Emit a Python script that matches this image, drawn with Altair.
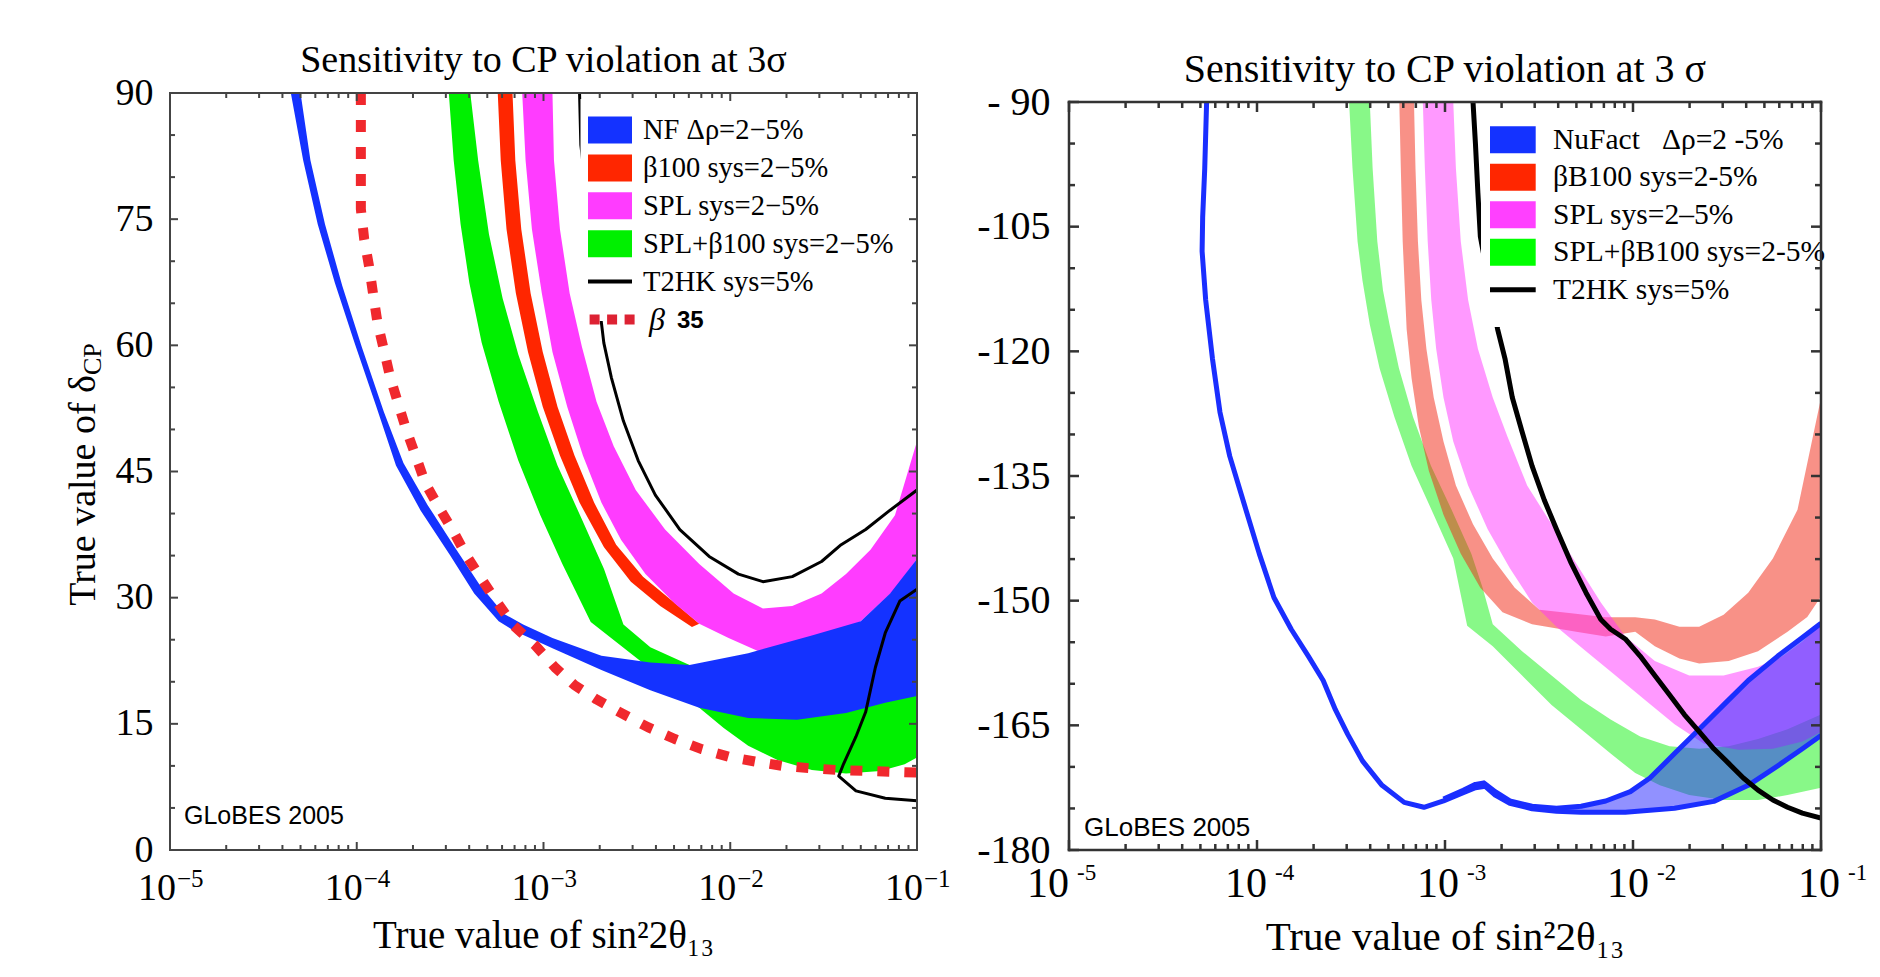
import altair as alt
import numpy as np
import pandas as pd

SERIF = "Liberation Serif, Times New Roman, serif"
SANS = "Liberation Sans, Arial, sans-serif"

# ======================= LEFT PANEL  (delta_CP 0..90 deg) =======================
# x values are stored as log10(sin^2 2theta13)
nf_l_lx = [-4.353, -4.287, -4.209, -4.117, -4.012, -3.895, -3.790, -3.659, -3.502, -3.371, -3.240, -3.161,
           -2.952, -2.690, -2.428, -2.166, -1.904, -1.642, -1.380, -1.170, -1.0,
           -1.0, -1.144, -1.301, -1.563, -1.904, -2.218, -2.428, -2.690, -2.952, -3.109,
           -3.213, -3.344, -3.475, -3.620, -3.750, -3.855, -3.973, -4.078, -4.170, -4.248, -4.301]
nf_l_d = [90, 82.0, 74.4, 67.4, 60.3, 52.7, 45.7, 40.4, 35.1, 30.5, 27.2, 26.1,
          24.0, 21.4, 19.0, 16.9, 15.7, 15.5, 16.3, 17.5, 18.3,
          34.6, 30.5, 27.2, 25.5, 23.4, 22.0, 22.3, 23.1, 25.2, 26.8,
          28.1, 31.6, 36.0, 41.0, 46.0, 52.1, 59.8, 67.1, 74.4, 82.0, 90]

b35_l_lx = [-3.978, -3.978, -3.960, -3.934, -3.913, -3.889, -3.855, -3.821, -3.777, -3.737, -3.685, -3.633,
            -3.559, -3.481, -3.410, -3.331, -3.253, -3.161, -3.043, -2.938, -2.834, -2.716, -2.585, -2.441,
            -2.297, -2.153, -2.009, -1.864, -1.720, -1.563, -1.419, -1.275, -1.131, -0.985]
b35_l_d = [90, 76.2, 72.6, 69.4, 66.2, 62.7, 59.5, 56.2, 53.0, 50.1, 46.9, 43.6,
           40.7, 37.8, 34.9, 32.2, 29.6, 26.7, 24.3, 21.7, 19.6, 17.9, 16.3, 14.6,
           13.2, 12.0, 11.1, 10.5, 10.0, 9.7, 9.5, 9.4, 9.3, 9.2]

splb_l_lx = [-3.507, -3.481, -3.444, -3.397, -3.331, -3.240, -3.135, -3.017, -2.899, -2.747, -2.454, -2.166,
             -2.035, -1.904, -1.747, -1.563, -1.380, -1.196, -1.066, -1.0,
             -1.0, -1.380, -1.904, -2.218, -2.428, -2.572, -2.676, -2.794, -2.925, -3.030, -3.135, -3.219,
             -3.292, -3.350, -3.392]
splb_l_d = [90, 82.0, 74.4, 67.4, 60.3, 53.3, 46.3, 39.8, 34.0, 27.1, 22.0, 16.9,
            14.5, 12.4, 10.7, 9.5, 9.1, 9.4, 10.2, 11.0,
            23.4, 22.0, 21.0, 22.0, 24.1, 26.8, 33.4, 39.3, 45.7, 52.1, 58.9, 65.6,
            73.2, 82.0, 90]

b100_l_lx = [-3.245, -3.229, -3.198, -3.148, -3.083, -3.004, -2.912, -2.807, -2.676, -2.532, -2.375, -2.205,
             -2.166, -2.310, -2.467, -2.611, -2.729, -2.834, -2.925, -3.004, -3.069, -3.119, -3.151, -3.166]
b100_l_d = [90, 82.0, 73.8, 66.2, 59.2, 52.7, 46.9, 41.3, 36.0, 31.9, 29.0, 26.5,
            26.9, 29.6, 32.5, 36.3, 41.3, 46.9, 52.7, 59.2, 66.2, 73.8, 82.0, 90]

spl_l_lx = [-3.114, -3.096, -3.062, -3.009, -2.952, -2.873, -2.789, -2.690, -2.585, -2.454, -2.297, -2.166,
            -2.009, -1.825, -1.642, -1.432, -1.301, -1.118, -1.0,
            -1.0, -1.118, -1.249, -1.380, -1.511, -1.668, -1.825, -1.982, -2.166, -2.349, -2.506, -2.624,
            -2.716, -2.794, -2.860, -2.912, -2.944, -2.952]
spl_l_d = [90, 82.0, 73.8, 66.2, 59.2, 52.7, 46.9, 41.3, 36.9, 32.8, 29.3, 26.9,
           25.2, 23.4, 24.0, 25.8, 27.2, 31.0, 34.6,
           48.6, 39.8, 35.7, 32.8, 30.5, 29.0, 28.7, 30.5, 34.0, 38.1, 42.8, 48.0,
           53.3, 59.8, 66.2, 73.8, 82.0, 90]

t2hk_l1_lx = [-2.807, -2.800, -2.690, -2.677, -2.637, -2.572, -2.493, -2.401, -2.270, -2.113, -1.956,
              -1.825, -1.668, -1.511, -1.406, -1.275, -1.144, -1.0]
t2hk_l1_d = [90, 83.8, 62.7, 60.3, 56.2, 51.0, 46.3, 42.2, 38.1, 34.9, 32.8,
             31.9, 32.5, 34.3, 36.3, 38.1, 40.4, 42.8]
t2hk_l2_lx = [-1.0, -1.170, -1.327, -1.419, -1.393, -1.327, -1.275, -1.223, -1.170, -1.092, -1.0]
t2hk_l2_d = [5.86, 6.15, 7.03, 8.79, 10.25, 13.47, 16.4, 21.7, 25.8, 29.6, 31.0]

# ======================= RIGHT PANEL  (delta_CP -180..-90 deg) =======================
nf_r_out_lx = [-4.268, -4.278, -4.289, -4.292, -4.273, -4.237, -4.197, -4.145, -4.067, -3.988, -3.910,
               -3.818, -3.727, -3.648, -3.583, -3.518, -3.439, -3.335, -3.217, -3.112, -3.008, -2.903,
               -2.838, -2.786, -2.733, -2.655, -2.537, -2.407, -2.276, -2.041, -1.779, -1.570, -1.387,
               -1.230, -1.099, -1.0]
nf_r_out_d = [-90, -97.98, -103.85, -107.96, -113.83, -120.87, -127.32, -132.61, -138.47, -144.34, -149.62,
              -153.44, -156.67, -159.60, -163.12, -166.06, -169.28, -172.22, -174.27, -174.86, -174.10, -173.10,
              -172.51, -172.33, -173.39, -174.39, -175.03, -175.33, -175.45, -175.45, -174.98, -174.15, -172.22,
              -169.87, -167.82, -166.23]
nf_r_up_lx = [-3.008, -2.903, -2.838, -2.793, -2.733, -2.655, -2.537, -2.407, -2.276, -2.145, -2.014,
              -1.910, -1.779, -1.648, -1.518, -1.387, -1.230, -1.099, -1.0]
nf_r_up_d = [-173.86, -172.80, -172.10, -171.92, -172.98, -174.10, -174.74, -174.98, -174.74, -174.10, -172.98,
             -171.34, -168.40, -165.47, -162.54, -159.60, -156.67, -154.44, -152.73]

splb_r_lx = [-3.510, -3.492, -3.465, -3.439, -3.400, -3.348, -3.269, -3.178, -3.060, -2.956, -2.882, -2.746,
             -2.590, -2.433, -2.276, -2.119, -1.988, -1.857, -1.701, -1.518, -1.335, -1.178, -1.0,
             -1.0, -1.178, -1.335, -1.491, -1.648, -1.805, -1.962, -2.119, -2.276, -2.433, -2.590, -2.746,
             -2.80, -2.86, -2.965, -3.075, -3.17, -3.245, -3.295, -3.33, -3.36, -3.385, -3.400]
splb_r_d = [-90, -97.98, -106.78, -111.48, -116.76, -122.04, -127.91, -133.78, -139.65, -144.93, -153.03, -155.49,
            -159.01, -162.54, -165.47, -168.40, -170.75, -172.22, -173.39, -173.98, -173.98, -173.39, -172.51,
            -163.71, -165.47, -166.64, -167.52, -167.82, -167.52, -166.35, -164.30, -161.95, -159.01, -156.08,
            -152.85, -148.45, -144.34, -139.06, -133.78, -127.91, -122.04, -116.76, -112.65, -106.78, -97.98, -90]

b100_r_lx = [-3.243, -3.235, -3.225, -3.204, -3.178, -3.139, -3.086, -3.008, -2.916, -2.812, -2.694, -2.537,
             -2.302, -2.145, -1.988, -1.884, -1.753, -1.648, -1.491, -1.335, -1.178, -1.073, -1.0,
             -1.0, -1.125, -1.256, -1.387, -1.518, -1.648, -1.753, -1.884, -1.988, -2.145, -2.328, -2.498,
             -2.629, -2.746, -2.851, -2.942, -3.008, -3.060, -3.099, -3.126, -3.144, -3.157, -3.165]
b100_r_d = [-90, -97.98, -106.78, -117.35, -123.22, -129.08, -134.37, -139.65, -144.34, -148.45, -151.38, -152.85,
            -153.73, -154.32, -153.73, -155.49, -156.96, -157.55, -157.25, -156.08, -153.73, -151.97, -149.5,
            -125.6, -139.06, -144.93, -149.04, -151.68, -153.15, -153.15, -152.27, -152.0, -152.0, -151.5, -151.09,
            -148.45, -144.93, -140.82, -136.13, -130.85, -125.56, -119.69, -113.83, -106.78, -97.98, -90]

spl_r_lx = [-3.118, -3.107, -3.092, -3.073, -3.047, -3.008, -2.956, -2.877, -2.773, -2.655, -2.537, -2.407,
            -2.250, -2.093, -1.936, -1.779, -1.622, -1.439, -1.256, -1.099, -1.0,
            -1.0, -1.099, -1.204, -1.335, -1.518, -1.701, -1.884, -2.041, -2.171, -2.302, -2.433, -2.563,
            -2.668, -2.746, -2.825, -2.877, -2.916, -2.942, -2.956]
spl_r_d = [-90, -97.98, -106.78, -113.83, -119.69, -125.56, -130.85, -136.13, -141.41, -146.10, -150.21, -153.15,
           -156.08, -159.01, -161.95, -164.88, -167.23, -167.93, -167.82, -166.94, -165.8,
           -152.8, -154.91, -156.67, -157.96, -159.01, -159.01, -157.25, -154.32, -150.21, -145.52, -140.82, -136.13,
           -130.26, -125.56, -119.69, -113.83, -106.78, -97.98, -90]

t2hk_r_lx = [-2.851, -2.838, -2.825, -2.812, -2.720, -2.681, -2.642, -2.590, -2.537, -2.472, -2.407, -2.328,
             -2.250, -2.171, -2.119, -2.041, -1.962, -1.884, -1.805, -1.727, -1.648, -1.570, -1.491, -1.413,
             -1.335, -1.256, -1.178, -1.099, -1.0]
t2hk_r_d = [-90, -95.05, -100.92, -106.20, -117.35, -120.87, -125.56, -129.67, -133.78, -137.89, -141.41, -145.52,
            -149.04, -152.27, -153.44, -154.61, -156.67, -159.01, -161.36, -163.71, -165.76, -167.82, -169.58, -171.34,
            -172.80, -173.98, -174.86, -175.56, -176.15]

# ======================= ticks, labels, legend text =======================
x_decades = [-5, -4, -3, -2, -1]
left_y_major = [0, 15, 30, 45, 60, 75, 90]
right_y_major = [-180, -165, -150, -135, -120, -105, -90]
left_title = "Sensitivity to CP violation at 3\u03c3"
right_title = "Sensitivity to CP violation at 3 \u03c3"
x_title = "True value of sin\u00b22\u03b8\u2081\u2083"
left_legend = ["NF \u0394\u03c1=2\u22125%", "\u03b2100 sys=2\u22125%", "SPL sys=2\u22125%",
               "SPL+\u03b2100 sys=2\u22125%", "T2HK sys=5%"]
left_legend_colors = ["#1432ff", "#ff2600", "#ff3cff", "#00f000"]
right_legend = ["NuFact\u00a0\u00a0 \u0394\u03c1=2 -5%", "\u03b2B100 sys=2-5%", "SPL sys=2\u20135%",
                "SPL+\u03b2B100 sys=2-5%", "T2HK sys=5%"]
right_legend_colors = ["#1432ff", "#ff2600", "#ff40ff", "#00ff00"]

# ======================= chart building =======================
W_L, W_R, H = 747, 752, 757
XS = alt.Scale(type="log", domain=[1e-5, 1e-1], nice=False)
YS_L = alt.Scale(domain=[0, 90], nice=False, zero=False)
YS_R = alt.Scale(domain=[-180, -90], range=[H, 9], nice=False, zero=False)

YAX_L = alt.Axis(values=left_y_major, title=None, domain=False, ticks=False, tickSize=0, grid=False,
                 labelFont=SERIF, labelFontSize=38, labelColor="black", labelPadding=17,
                 labelOverlap=False, labelFlush=False)
YAX_R = alt.Axis(values=right_y_major, title=None, domain=False, ticks=False, tickSize=0, grid=False,
                 labelFont=SERIF, labelFontSize=40, labelColor="black", labelPadding=19,
                 labelOverlap=False, labelFlush=False,
                 labelExpr="datum.value == -90 ? '- 90' : '-' + (-datum.value)")


def xy_df(lx, d):
    return pd.DataFrame({"x": np.power(10.0, np.array(lx, dtype=float)),
                         "y": np.array(d, dtype=float), "i": np.arange(len(lx))})


def enc_xy(ys, yax):
    return dict(x=alt.X("x:Q", scale=XS, axis=None), y=alt.Y("y:Q", scale=ys, axis=yax),
                order=alt.Order("i:Q"))


def band(lx, d, color, ys, yax, op=1.0):
    return alt.Chart(xy_df(lx, d)).mark_line(
        fill=color, fillOpacity=op, stroke=color, strokeWidth=0, clip=True
    ).encode(**enc_xy(ys, yax))


def curve(lx, d, color, width, ys, yax, dash=None, clip=True):
    kw = dict(stroke=color, strokeWidth=width, clip=clip, strokeJoin="round", strokeCap="butt")
    if dash is not None:
        kw["strokeDash"] = dash
    return alt.Chart(xy_df(lx, d)).mark_line(**kw).encode(**enc_xy(ys, yax))


def frame_and_ticks(ylo, yhi, ymaj, ymin, lmaj, lmin, ys, yax, color, width):
    layers = []
    fdf = pd.DataFrame({"x": [1e-5, 0.1, 1e-5, 1e-5], "x2": [1e-5, 0.1, 0.1, 0.1],
                        "y": [ylo, ylo, ylo, yhi], "y2": [yhi, yhi, ylo, yhi]})
    layers.append(alt.Chart(fdf).mark_rule(color=color, strokeWidth=width, strokeCap="square").encode(
        x=alt.X("x:Q", scale=XS, axis=None), x2="x2:Q", y=alt.Y("y:Q", scale=ys, axis=yax), y2="y2:Q"))
    xmaj = [10.0 ** e for e in x_decades]
    xmin = [k * 10.0 ** e for e in x_decades[:-1] for k in range(2, 10)]
    for vals, L in ((ymaj, lmaj), (ymin, lmin)):
        b = alt.Chart(pd.DataFrame({"v": vals, "a": 1e-5, "b": 0.1}))
        layers.append(b.mark_rule(color=color, strokeWidth=width, x2Offset=L).encode(
            x=alt.X("a:Q", scale=XS, axis=None), x2="a:Q", y=alt.Y("v:Q", scale=ys, axis=yax)))
        layers.append(b.mark_rule(color=color, strokeWidth=width, x2Offset=-L).encode(
            x=alt.X("b:Q", scale=XS, axis=None), x2="b:Q", y=alt.Y("v:Q", scale=ys, axis=yax)))
    for vals, L in ((xmaj, lmaj), (xmin, lmin)):
        b = alt.Chart(pd.DataFrame({"v": vals, "a": ylo, "b": yhi}))
        layers.append(b.mark_rule(color=color, strokeWidth=width, y2Offset=-L).encode(
            x=alt.X("v:Q", scale=XS, axis=None), y=alt.Y("a:Q", scale=ys, axis=yax), y2="a:Q"))
        layers.append(b.mark_rule(color=color, strokeWidth=width, y2Offset=L).encode(
            x=alt.X("v:Q", scale=XS, axis=None), y=alt.Y("b:Q", scale=ys, axis=yax), y2="b:Q"))
    return layers


def xlabels(ylo, ys, yax, bsize, esize, bdxs, gap, bdy, edy, minus):
    layers = []
    for e, bdx in zip(x_decades, bdxs):
        df = pd.DataFrame({"v": [10.0 ** e], "y": [ylo], "b": ["10"], "e": [minus + str(-e)]})
        enc = dict(x=alt.X("v:Q", scale=XS, axis=None), y=alt.Y("y:Q", scale=ys, axis=yax))
        layers.append(alt.Chart(df).mark_text(font=SERIF, fontSize=bsize, align="right",
                                              baseline="alphabetic", dx=bdx, dy=bdy,
                                              color="black").encode(text="b:N", **enc))
        layers.append(alt.Chart(df).mark_text(font=SERIF, fontSize=esize, align="left",
                                              baseline="alphabetic", dx=bdx + gap, dy=edy,
                                              color="black").encode(text="e:N", **enc))
    return layers


def note(text, xv, yv, ys, yax, font, size, dx, dy, align="left"):
    df = pd.DataFrame({"x": [xv], "y": [yv], "t": [text]})
    return alt.Chart(df).mark_text(font=font, fontSize=size, align=align, baseline="alphabetic",
                                   dx=dx, dy=dy, color="black").encode(
        x=alt.X("x:Q", scale=XS, axis=None), y=alt.Y("y:Q", scale=ys, axis=yax), text="t:N")


def legend(labels, colors, bg, x0, x1, xt, yc0, dy, size, line_w):
    one_ = pd.DataFrame({"a": [0]})
    layers = [alt.Chart(one_).mark_rect(color="white").encode(
        x=alt.value(bg[0]), x2=alt.value(bg[1]), y=alt.value(bg[2]), y2=alt.value(bg[3]))]
    n = len(colors)
    sw = pd.DataFrame({"x0": x0, "x1": x1, "c": colors,
                       "yt": [yc0 + dy * i - 13.5 for i in range(n)],
                       "yb": [yc0 + dy * i + 13.5 for i in range(n)]})
    layers.append(alt.Chart(sw).mark_rect().encode(
        x=alt.X("x0:Q", scale=None), x2="x1:Q", y=alt.Y("yt:Q", scale=None), y2="yb:Q",
        color=alt.Color("c:N", scale=None)))
    ln = pd.DataFrame({"x0": [x0], "x1": [x1], "y": [yc0 + dy * n]})
    layers.append(alt.Chart(ln).mark_rule(color="black", strokeWidth=line_w).encode(
        x=alt.X("x0:Q", scale=None), x2="x1:Q", y=alt.Y("y:Q", scale=None)))
    tx = pd.DataFrame({"t": labels, "x": xt, "y": [yc0 + dy * i for i in range(len(labels))]})
    layers.append(alt.Chart(tx).mark_text(font=SERIF, fontSize=size, align="left", baseline="middle",
                                          color="black").encode(
        x=alt.X("x:Q", scale=None), y=alt.Y("y:Q", scale=None), text="t:N"))
    return layers


def title_text(text, size, xpix, ypix):
    return alt.Chart(pd.DataFrame({"t": [text]})).mark_text(
        font=SERIF, fontSize=size, align="center", baseline="alphabetic", color="black"
    ).encode(x=alt.value(xpix), y=alt.value(ypix), text="t:N")


one = pd.DataFrame({"a": [0]})

# ---------- left panel ----------
L = []
L.append(band(splb_l_lx, splb_l_d, "#00f000", YS_L, YAX_L))
L.append(band(b100_l_lx, b100_l_d, "#ff2600", YS_L, YAX_L))
L.append(band(spl_l_lx, spl_l_d, "#ff3cff", YS_L, YAX_L))
L.append(band(nf_l_lx, nf_l_d, "#1432ff", YS_L, YAX_L))
L.append(curve(t2hk_l1_lx, t2hk_l1_d, "black", 3, YS_L, YAX_L))
L.append(curve(t2hk_l2_lx, t2hk_l2_d, "black", 3, YS_L, YAX_L))
L.append(curve(b35_l_lx, b35_l_d, "#f0282d", 10, YS_L, YAX_L, dash=[12, 15], clip=False))
L += legend(left_legend, left_legend_colors, (410.5, 736, 6, 228), 418, 462, 473, 37, 37.9, 28.5, 4)
L.append(alt.Chart(pd.DataFrame({"x0": [419.6], "x1": [464.6], "y": [37 + 37.9 * 5]})).mark_rule(
    color="#dd2233", strokeWidth=10, strokeDash=[10, 7.5]).encode(
    x=alt.X("x0:Q", scale=None), x2="x1:Q", y=alt.Y("y:Q", scale=None)))
L.append(alt.Chart(one).mark_text(text="\u03b2", font=SERIF, fontStyle="italic", fontSize=32,
                                  align="left", baseline="middle").encode(
    x=alt.value(479), y=alt.value(37 + 37.9 * 5)))
L.append(alt.Chart(one).mark_text(text="35", font=SANS, fontWeight="bold", fontSize=24,
                                  align="left", baseline="middle").encode(
    x=alt.value(507), y=alt.value(37 + 37.9 * 5 + 1)))
L += frame_and_ticks(0, 90, left_y_major, [v for v in range(5, 90, 5) if v % 15], 8, 5,
                     YS_L, YAX_L, "#444444", 2)
L += xlabels(0, YS_L, YAX_L, 38, 25, [6, 6, 6, 6, 6], 1, 50, 37, "\u2212")
L.append(note("GLoBES 2005", 1e-5, 0, YS_L, YAX_L, SANS, 25, 14, -26))
L.append(note(x_title, 1e-3, 0, YS_L, YAX_L, SERIF, 39, 0, 98, align="center"))
L.append(alt.Chart(one).mark_text(text="True value of \u03b4", font=SERIF, fontSize=38, angle=270,
                                  align="right", baseline="alphabetic").encode(
    x=alt.value(-75), y=alt.value(282)))
L.append(alt.Chart(one).mark_text(text="CP", font=SERIF, fontSize=26, angle=270,
                                  align="left", baseline="alphabetic").encode(
    x=alt.value(-69), y=alt.value(282)))
L.append(title_text(left_title, 38, W_L / 2, -21))
# invisible anchor fixing the top-left corner of the drawing
L.append(alt.Chart(one).mark_rule(strokeOpacity=0, strokeWidth=1).encode(
    x=alt.value(-162), x2=alt.value(-160), y=alt.value(-84.5)))

left = alt.layer(*L).properties(width=W_L, height=H)

# ---------- right panel ----------
R = []
R.append(band(splb_r_lx, splb_r_d, "#11f111", YS_R, YAX_R, 0.5))
R.append(band(b100_r_lx, b100_r_d, "#f1230f", YS_R, YAX_R, 0.5))
R.append(band(spl_r_lx, spl_r_d, "#ff33ff", YS_R, YAX_R, 0.5))
nf_fill_lx = nf_r_up_lx + nf_r_out_lx[20:][::-1]
nf_fill_d = nf_r_up_d + nf_r_out_d[20:][::-1]
R.append(band(nf_fill_lx, nf_fill_d, "#2323ff", YS_R, YAX_R, 0.5))
R.append(curve(nf_r_out_lx, nf_r_out_d, "#1a2eff", 5, YS_R, YAX_R))
R.append(curve(nf_r_up_lx, nf_r_up_d, "#1a2eff", 5, YS_R, YAX_R))
R.append(curve(t2hk_r_lx, t2hk_r_d, "black", 5, YS_R, YAX_R))
R += legend(right_legend, right_legend_colors, (412, 745, 15, 234), 421, 466.7, 484, 46.7, 37.5, 29.5, 5)
R += frame_and_ticks(-180, -90, right_y_major, [v for v in range(-175, -90, 5) if v % 15], 10, 6,
                     YS_R, YAX_R, "#333333", 2.5)
R += xlabels(-180, YS_R, YAX_R, 42, 23, [0, 10, 14, 16, 19], 8, 47, 30, "-")
R.append(note("GLoBES 2005", 1e-5, -180, YS_R, YAX_R, SANS, 26, 15, -14))
R.append(note(x_title, 1e-3, -180, YS_R, YAX_R, SERIF, 41, 0, 100, align="center"))
R.append(title_text(right_title, 40, W_R / 2, -11))

right = alt.layer(*R).properties(width=W_R, height=H)

chart = alt.hconcat(left, right, spacing=152, bounds="flush").properties(
    padding=0, background="white"
).configure_view(strokeWidth=0)

chart.save("out.html", embed_options={"renderer": "svg", "actions": False})
